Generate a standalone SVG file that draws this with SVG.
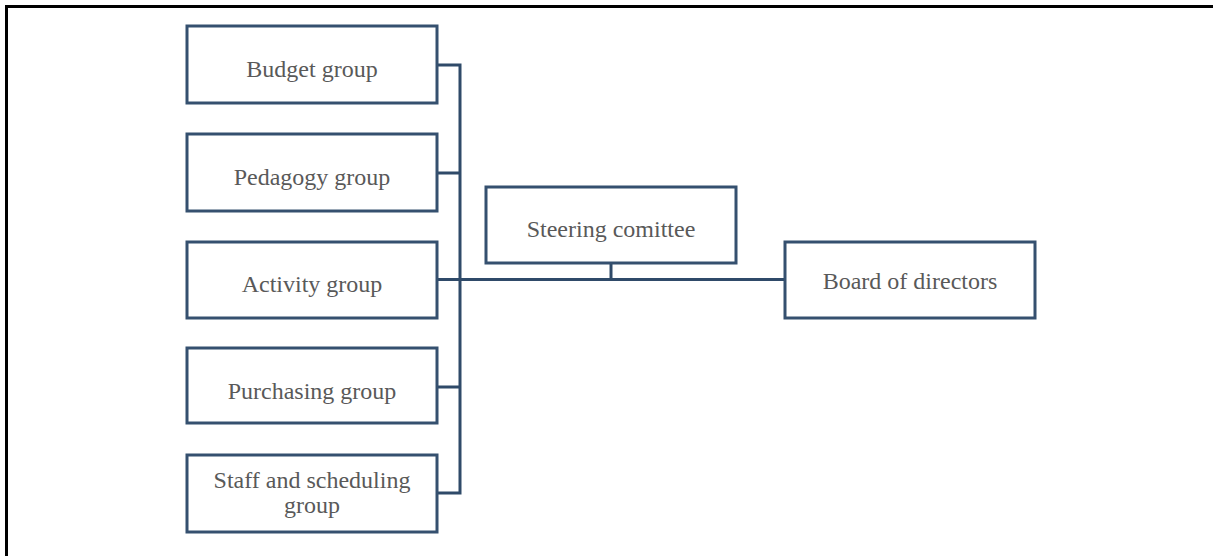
<svg xmlns="http://www.w3.org/2000/svg" width="1213" height="556" viewBox="0 0 1213 556">
<style>
.box{fill:#ffffff;stroke:#35506f;stroke-width:3}
.t{font-family:"Liberation Serif","Times New Roman",serif;font-size:24px;fill:#595959;text-anchor:middle}
.c{fill:none;stroke:#2f4a69;stroke-width:3}
</style>
<rect x="0" y="0" width="1213" height="556" fill="#ffffff"/>
<path d="M6.5,556 V6.5 H1213" fill="none" stroke="#000000" stroke-width="3"/>
<g id="connectors">
<path class="c" d="M437,65 H460 M437,173 H460 M437,387 H460 M437,493 H460 M460,63.5 V494.5"/>
<path class="c" d="M437,279.5 H785"/>
<path class="c" d="M611,263 V279.5"/>
</g>
<g id="budget"><rect class="box" x="187" y="26" width="250" height="77"/><text class="t" x="312" y="77">Budget group</text></g>
<g id="pedagogy"><rect class="box" x="187" y="134" width="250" height="77"/><text class="t" x="312" y="185">Pedagogy group</text></g>
<g id="activity"><rect class="box" x="187" y="242" width="250" height="76"/><text class="t" x="312" y="292">Activity group</text></g>
<g id="purchasing"><rect class="box" x="187" y="348" width="250" height="75"/><text class="t" x="312" y="399">Purchasing group</text></g>
<g id="staff"><rect class="box" x="187" y="455" width="250" height="77"/><text class="t" x="312" y="488">Staff and scheduling</text><text class="t" x="312" y="513">group</text></g>
<g id="steering"><rect class="box" x="486" y="187" width="250" height="76"/><text class="t" x="611" y="237">Steering comittee</text></g>
<g id="board"><rect class="box" x="785" y="242" width="250" height="76"/><text class="t" x="910" y="289">Board of directors</text></g>
</svg>
